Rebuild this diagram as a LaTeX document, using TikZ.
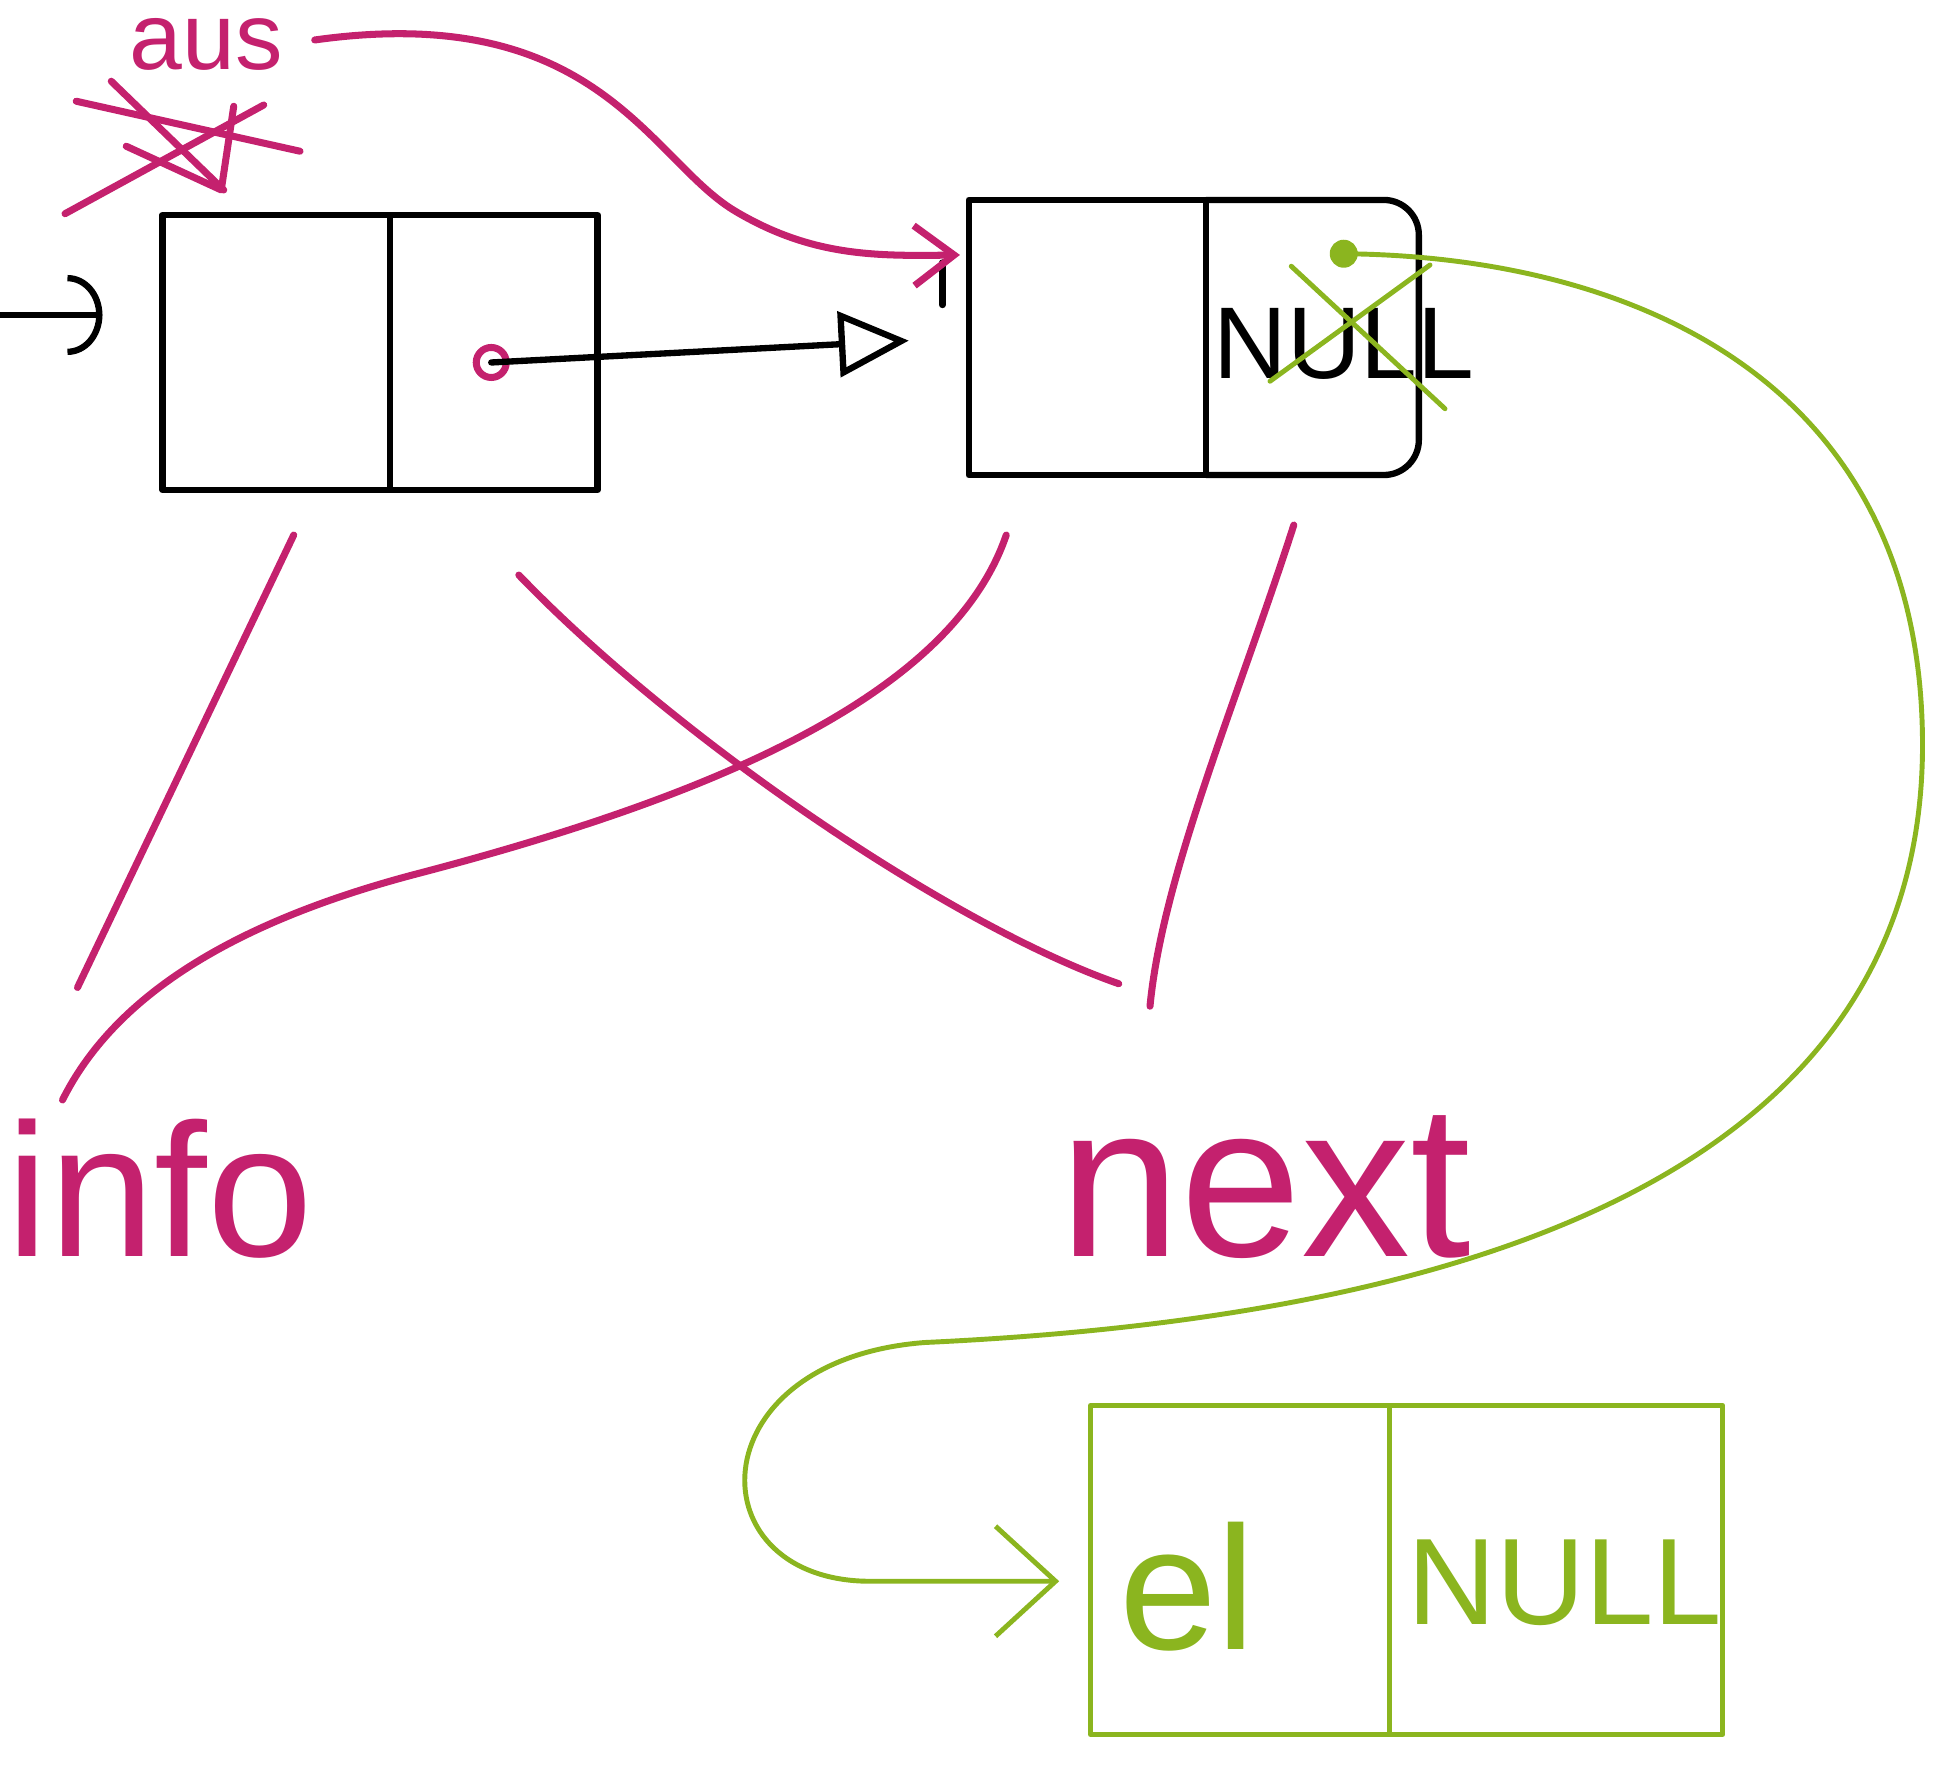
\documentclass[tikz,border=0pt]{standalone}
\usepackage{fontspec}
\setmainfont{Liberation Sans}
\usepackage{tikz}
\usetikzlibrary{arrows.meta,positioning,calc}
\definecolor{inkpink}{HTML}{C4216E}
\definecolor{inkgreen}{HTML}{8BB51F}
\tikzset{
  ink/.style={line width=1.8pt, line cap=round, line join=round},
  cell/.style={ink, draw, minimum height=2.75cm, inner sep=0pt, outer sep=0pt},
  pinkline/.style={ink, draw=inkpink, line width=2pt},
  greenline/.style={ink, draw=inkgreen, line width=1.4pt},
  gcell/.style={greenline, minimum height=3.29cm, inner sep=0pt, outer sep=0pt},
  pinktext/.style={anchor=base, text=inkpink, inner sep=0pt},
  greentext/.style={anchor=base, text=inkgreen, inner sep=0pt}
}

\begin{document}
\begin{tikzpicture}[x=0.0125cm, y=-0.0125cm]
\useasboundingbox (0,0) rectangle (1568,1426);

% first node of the list
\node[cell, minimum width=2.275cm] (infoA) at (221,282) {};
\node[cell, minimum width=2.075cm, right=0pt of infoA] (nextA) {};
% second node, its next field still NULL
\node[cell, minimum width=2.375cm] (infoB) at (870,270) {};
\node[cell, draw=none, minimum width=2.125cm, right=0pt of infoB] (nextB) {};
\draw[ink, rounded corners=0.35cm] (nextB.north west) -- (nextB.north east)
  -- (nextB.south east) -- (nextB.south west);
\node[anchor=base, inner sep=0pt, font=\fontsize{29}{33}\selectfont] (oldnull) at (1075,303) {NULL};
% new node
\node[gcell, minimum width=2.99cm] (elcell) at (992,1256) {};
\node[gcell, minimum width=3.33cm, right=0pt of elcell] (nullcell) {};
\node[greentext, font=\fontsize{50}{56}\selectfont] (eltxt) at (950,1320) {el};
\node[greentext, font=\fontsize{35}{40}\selectfont] (newnull) at (1252,1300) {NULL};

% labels
\node[pinktext, text height=1.2ex, text depth=0pt, font=\fontsize{27}{30}\selectfont] (aus) at (165,56) {aus};
\node[pinktext, font=\fontsize{54}{60}\selectfont] (infolbl) at (128,1005) {info};
\node[pinktext, font=\fontsize{62}{68}\selectfont] (nextlbl) at (1012,1005) {next};

% head pointer into the list
\coordinate (head) at (0,252);
\draw[ink, -{Arc Barb[length=3.5mm, width=8mm]}] (head) -- ($(infoA.west)+(-48,-30)$);

% link from first to second
\node[circle, draw=inkpink, line width=2pt, minimum size=0.3cm, inner sep=0pt] (ptr) at (393,290) {};
\draw[ink, -{Triangle[open, length=7mm, width=6.5mm]}, shorten >=0.6cm] (ptr.center) -- (infoB.west);
\draw[ink] (754,210) -- (754,244);

% aus, old value struck out
\draw[pinkline] (61,81) -- (240,121);
\draw[pinkline] (89,65) -- (179,152);
\draw[pinkline] (52,171) -- (211,84);
\draw[pinkline] (101,117) -- (177,152) -- (187,85);
\draw[pinkline, -{Straight Barb[length=4mm, width=6mm]}] ($(aus.base east)+(25,-24)$)
  .. controls (480,0) and (520,130) .. (590,170)
  .. controls (650,205) and (700,205) .. ($(infoB.north west)+(-7,44)$);

% field names
\draw[pinkline] ($(infoA.south)+(14,36)$) -- ($(infolbl.base)+(-66,-215)$);
\draw[pinkline] ($(infoB.south)+(-65,48)$) .. controls (760,560) and (560,640) .. (330,700)
  .. controls (180,740) and (90,800) .. ($(infolbl.base)+(-78,-125)$);
\draw[pinkline] ($(nextA.south)+(20,68)$) .. controls (540,590) and (760,740) .. ($(nextlbl.base)+(-117,-218)$);
\draw[pinkline] ($(nextB.south)+(-15,40)$) .. controls (990,560) and (930,700) .. ($(nextlbl.base)+(-92,-200)$);

% NULL replaced by a link to the new node
\draw[greenline] (1033,213) -- (1156,327);
\draw[greenline] (1016,305) -- (1144,212);
\node[circle, fill=inkgreen, minimum size=0.28cm, inner sep=0pt] (gdot) at (1075,203) {};
\draw[greenline, -{Straight Barb[length=6mm, width=11mm]}] (gdot.center)
  .. controls (1300,205) and (1540,300) .. (1538,600)
  .. controls (1535,950) and (1150,1055) .. (740,1074)
  .. controls (555,1088) and (555,1268) .. (700,1265)
  -- ($(elcell.west)+(-25,9)$);
\end{tikzpicture}
\end{document}
